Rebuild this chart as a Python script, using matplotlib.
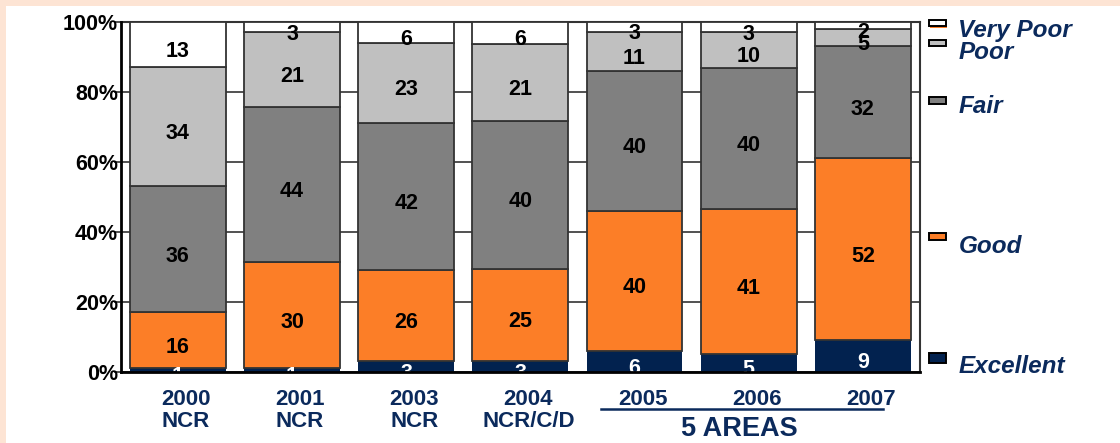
import matplotlib.pyplot as plt
import matplotlib.patches as patches
import matplotlib.transforms as mtransforms
import numpy as np

# Survey rating shares per year (percent)
years = ['2000', '2001', '2003', '2004', '2005', '2006', '2007']
regions = ['NCR', 'NCR', 'NCR', 'NCR/C/D', '', '', '']
excellent = [1, 1, 3, 3, 6, 5, 9]
good = [16, 30, 26, 25, 40, 41, 52]
fair = [36, 44, 42, 40, 40, 40, 32]
poor = [34, 21, 23, 21, 11, 10, 5]
very_poor = [13, 3, 6, 6, 3, 3, 2]
ratings = ['Excellent', 'Good', 'Fair', 'Poor', 'Very Poor']
yticks = [0, 20, 40, 60, 80, 100]

NAVY = '#02224F'
TEXT_NAVY = '#0B2A5C'
colors = [NAVY, '#FC7E27', '#808080', '#C0C0C0', '#FFFFFF']
label_colors = ['white', 'black', 'black', 'black', 'black']
EDGE = '#333333'
FONT = 'Liberation Sans'

series = np.array([excellent, good, fair, poor, very_poor], dtype=float)
shares = series / series.sum(axis=0) * 100  # 100% stacked

fig = plt.figure(figsize=(11.2, 4.43), dpi=100)
fig.patch.set_facecolor('white')
# peach slide frame on the left and top edges
fig.add_artist(patches.Rectangle((0, 0), 6 / 1120, 1, transform=fig.transFigure,
                                 facecolor='#FDE4D4', edgecolor='none'))
fig.add_artist(patches.Rectangle((0, 1 - 6 / 443), 1, 6 / 443, transform=fig.transFigure,
                                 facecolor='#FDE4D4', edgecolor='none'))

ax = fig.add_axes([0.1078, 0.1609, 0.7136, 0.7901])
x = np.arange(len(years))
width = 0.84

# segment labels sit a little below the segment centre
label_shift = mtransforms.ScaledTranslation(0, -7 / 100, fig.dpi_scale_trans)

bottom = np.zeros(len(years))
for k, name in enumerate(ratings):
    lw = 0 if k == 0 else 1.3
    ax.bar(x, shares[k], width, bottom=bottom, color=colors[k],
           edgecolor=EDGE, linewidth=lw, zorder=3)
    for i in range(len(years)):
        ax.text(x[i], bottom[i] + shares[k][i] / 2, f'{int(series[k][i])}',
                ha='center', va='center', fontsize=15.5, fontweight='bold',
                color=label_colors[k], family=FONT, zorder=4, clip_on=True,
                transform=ax.transData + label_shift)
    bottom += shares[k]

ax.set_xlim(-0.5, len(years) - 0.5)
ax.set_ylim(0, 100)
ax.set_yticks(yticks)
ax.set_yticklabels([f'{t}%' for t in yticks], fontsize=15.5, fontweight='bold', family=FONT)
ax.tick_params(axis='y', length=5, width=1.2, color=EDGE, pad=-3)
ax.set_xticks([])
ax.grid(axis='y', color=EDGE, linewidth=1.2, zorder=0)
for side in ['top', 'right']:
    ax.spines[side].set_color(EDGE)
    ax.spines[side].set_linewidth(1.5)
for side in ['left', 'bottom']:
    ax.spines[side].set_color('black')
    ax.spines[side].set_linewidth(2)
    ax.spines[side].set_zorder(5)

# category labels below the axis
xt = ax.get_xaxis_transform()
for i in range(len(years)):
    xl = x[i] + 0.07
    ax.text(xl, -0.095, years[i], transform=xt, ha='center', va='baseline',
            fontsize=16, fontweight='bold', color=TEXT_NAVY, family=FONT)
    if regions[i]:
        ax.text(xl, -0.158, regions[i], transform=xt, ha='center', va='baseline',
                fontsize=16, fontweight='bold', color=TEXT_NAVY, family=FONT)
ax.plot([x[4] - 0.29, x[6] + 0.18], [-0.106, -0.106], transform=xt,
        color=TEXT_NAVY, linewidth=1.8, clip_on=False)
ax.text((x[4] + x[6]) / 2 - 0.08, -0.183, '5 AREAS', transform=xt, ha='center',
        va='baseline', fontsize=19.5, fontweight='bold', color=TEXT_NAVY, family=FONT)

# legend placed alongside the last bar
marker_y = [0.039, 0.387, 0.774, 0.939, 0.996]
text_y = [-0.004, 0.338, 0.739, 0.894, 0.956]
marker_h = [0.028, 0.02, 0.02, 0.018, 0.018]
for k, name in enumerate(ratings):
    if name == 'Very Poor':
        ax.add_patch(patches.Rectangle((1.013, marker_y[k] - marker_h[k] / 2 - 0.005), 0.021,
                                       marker_h[k], transform=ax.transAxes, facecolor='#FC7E27',
                                       edgecolor='none', clip_on=False))
    ax.add_patch(patches.Rectangle((1.011, marker_y[k] - marker_h[k] / 2), 0.021, marker_h[k],
                                   transform=ax.transAxes, facecolor=colors[k],
                                   edgecolor='black', linewidth=1.4, clip_on=False))
    ax.text(1.048, text_y[k], name, transform=ax.transAxes, ha='left', va='baseline',
            fontsize=17.5, fontweight='bold', fontstyle='italic', color=TEXT_NAVY, family=FONT)

fig.savefig('out.png', dpi=100)
